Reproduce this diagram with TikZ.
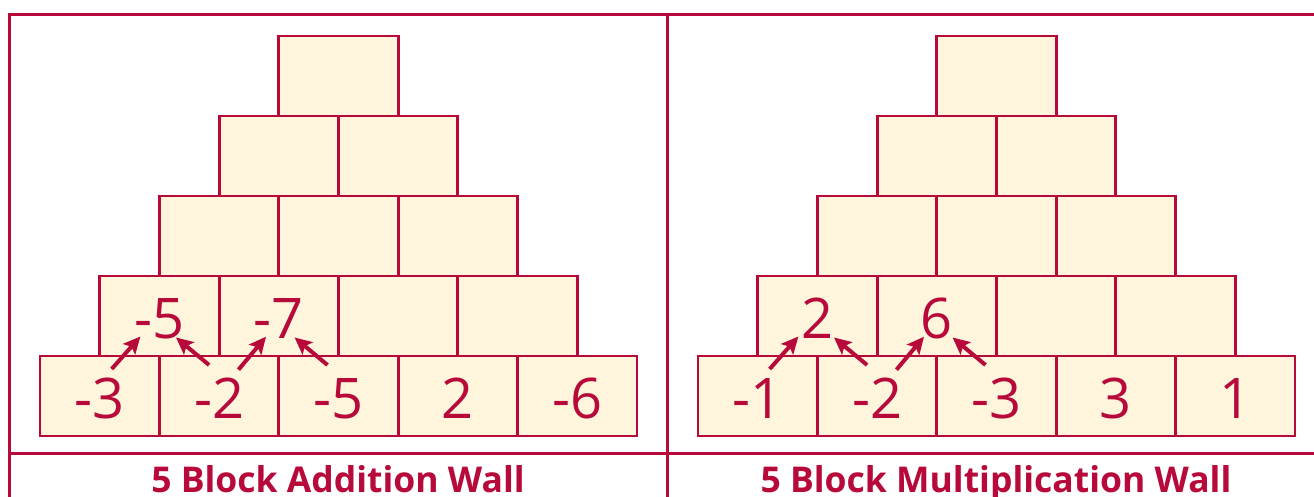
\documentclass[tikz,border=0pt]{standalone}
\usepackage{fontspec}
\setmainfont{Open Sans}
\usetikzlibrary{calc,arrows.meta}
\definecolor{wallred}{RGB}{183,10,58}
\definecolor{brick}{RGB}{255,245,220}

\begin{document}
\begin{tikzpicture}[x=1pt,y=-1pt,
  brickbox/.style={draw=wallred, fill=brick, line width=2.9pt,
    minimum width=119.4pt, minimum height=80pt, inner sep=0pt, outer sep=0pt},
  digit/.style={text=wallred, font=\fontsize{56}{60}\selectfont, anchor=base, inner sep=0pt},
  walltitle/.style={text=wallred, font=\bfseries\fontsize{35.5}{40}\selectfont, anchor=base, inner sep=0pt},
  frameline/.style={draw=wallred, line width=3pt},
  arr/.style={draw=wallred, line width=4pt, -{Stealth[length=17pt,width=16pt,inset=3.5pt]}}]

\clip (0,0) rectangle (1314,497);
\fill[white] (0,0) rectangle (1314,497);

% table frame
\draw[frameline] (9,520) -- (9,14.5) -- (1330,14.5);
\draw[frameline] (667,14.5) -- (667,520);
\draw[frameline] (9,453) -- (1330,453);

% the two walls of bricks
\foreach \side/\xo in {L/40,R/698}{
  \foreach \r in {1,...,5}{
    \foreach \i in {1,...,\r}{
      \node[brickbox] (\side-\r-\i) at ({\xo+(5-\r)*59.7+(\i-1)*119.4+59.7},{76+(\r-1)*80}) {};
    }
  }
}

% addition wall numbers
\node[digit] (la1) at ($(L-5-1)+(0,22)$) {-3};
\node[digit] (la2) at ($(L-5-2)+(0,22)$) {-2};
\node[digit] (la3) at ($(L-5-3)+(0,22)$) {-5};
\node[digit] (la4) at ($(L-5-4)+(0,22)$) {2};
\node[digit] (la5) at ($(L-5-5)+(0,22)$) {-6};
\node[digit] (lb1) at ($(L-4-1)+(0,22)$) {-5};
\node[digit] (lb2) at ($(L-4-2)+(0,22)$) {-7};

% multiplication wall numbers
\node[digit] (ra1) at ($(R-5-1)+(0,22)$) {-1};
\node[digit] (ra2) at ($(R-5-2)+(0,22)$) {-2};
\node[digit] (ra3) at ($(R-5-3)+(0,22)$) {-3};
\node[digit] (ra4) at ($(R-5-4)+(0,22)$) {3};
\node[digit] (ra5) at ($(R-5-5)+(0,22)$) {1};
\node[digit] (rb1) at ($(R-4-1)+(0,22)$) {2};
\node[digit] (rb2) at ($(R-4-2)+(0,22)$) {6};

% arrows from the bottom bricks up to the bricks above
\foreach \side in {L,R}{
  \draw[arr] ($(\side-5-1)+(12,-27)$) -- ($(\side-4-1)+(-19,20.5)$);
  \draw[arr] ($(\side-5-2)+(-10,-31)$) -- ($(\side-4-1)+(16.6,21.5)$);
  \draw[arr] ($(\side-5-2)+(19.4,-26.3)$) -- ($(\side-4-2)+(-12.8,20.7)$);
  \draw[arr] ($(\side-5-3)+(-11,-31)$) -- ($(\side-4-2)+(15.8,21.5)$);
}

% captions
\node[walltitle] (ltitle) at (338,492) {5 Block Addition Wall};
\node[walltitle] (rtitle) at (996,492) {5 Block Multiplication Wall};
\end{tikzpicture}
\end{document}
